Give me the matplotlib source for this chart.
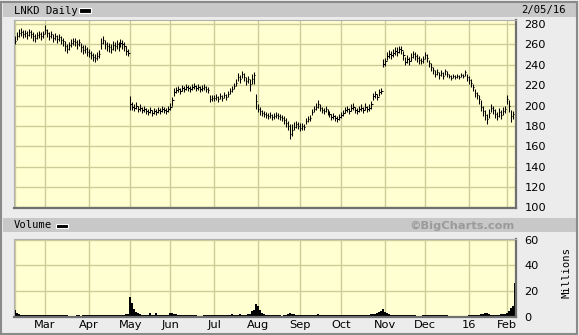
import numpy as np
import matplotlib
matplotlib.use("Agg")
import matplotlib.pyplot as plt
from matplotlib.patches import Rectangle

# trading days per month segment (Feb-15 partial ... Feb-16 partial)
month_labels = ["", "Mar", "Apr", "May", "Jun", "Jul", "Aug", "Sep", "Oct", "Nov", "Dec", "16", "Feb"]
month_days = [15, 22, 21, 20, 22, 22, 21, 21, 22, 20, 22, 19, 5]

# daily closes, highs, lows (USD), one row per month
close = [
    263, 268, 271, 272, 270, 271, 269, 272, 270, 268, 266, 269, 270, 268, 270,
    274, 271, 268, 270, 266, 268, 265, 267, 264, 263, 258, 256, 259, 261, 263, 262, 260, 262, 257, 255, 256, 253,
    252, 250, 248, 247, 249, 251, 261, 264, 260, 258, 257, 256, 259, 258, 260, 258, 261, 260, 258, 254, 252,
    201, 199, 198, 200, 197, 198, 196, 197, 195, 194, 196, 193, 195, 194, 196, 195, 197, 196, 195, 197,
    199, 205, 213, 215, 216, 214, 217, 216, 218, 217, 216, 218, 219, 217, 218, 216, 217, 218, 216, 215, 206, 207,
    207, 208, 206, 209, 207, 210, 208, 211, 214, 216, 219, 222, 228, 226, 231, 228, 224, 226, 221, 226, 230, 204,
    197, 195, 193, 192, 191, 190, 191, 189, 190, 191, 190, 189, 188, 186, 183, 180, 172, 176, 179, 182, 180,
    178, 180, 179, 185, 187, 188, 194, 197, 199, 201, 198, 196, 195, 197, 194, 192, 189, 190, 188, 187, 189,
    191, 193, 196, 197, 195, 198, 199, 196, 195, 197, 198, 196, 199, 197, 198, 201, 209, 211, 208, 213, 214, 241,
    244, 249, 251, 250, 252, 254, 253, 256, 255, 250, 243, 246, 244, 248, 251, 249, 247, 245, 244, 246,
    250, 247, 242, 238, 235, 231, 233, 230, 232, 229, 234, 231, 229, 227, 229, 228, 229, 228, 230, 229, 233, 228,
    225, 222, 218, 212, 210, 206, 199, 195, 191, 187, 193, 198, 196, 192, 190, 194, 191, 195, 197,
    206, 200, 190, 192, 102,
]
high = [
    268, 272, 275, 276, 274, 274, 273, 275, 274, 272, 270, 272, 273, 272, 273,
    279, 275, 272, 273, 270, 271, 269, 270, 268, 266, 263, 260, 262, 265, 266, 266, 264, 265, 261, 259, 259, 257,
    256, 254, 252, 251, 253, 255, 266, 268, 264, 262, 261, 260, 263, 262, 264, 262, 265, 264, 262, 258, 256,
    209, 203, 201, 203, 200, 201, 199, 200, 198, 197, 199, 196, 198, 197, 199, 198, 200, 199, 198, 200,
    202, 208, 217, 218, 219, 217, 220, 219, 221, 220, 219, 221, 222, 220, 221, 219, 220, 221, 219, 218, 210, 210,
    210, 211, 209, 212, 210, 213, 211, 214, 217, 219, 222, 226, 232, 230, 234, 232, 228, 229, 226, 231, 233, 211,
    201, 199, 196, 195, 194, 193, 194, 192, 193, 194, 193, 192, 191, 190, 188, 185, 182, 182, 184, 185, 184,
    183, 183, 182, 188, 190, 191, 197, 200, 202, 205, 201, 199, 198, 200, 197, 195, 192, 193, 191, 190, 192,
    194, 196, 199, 200, 198, 201, 202, 199, 198, 200, 201, 199, 202, 200, 201, 204, 212, 214, 211, 216, 217, 246,
    247, 253, 255, 254, 256, 257, 257, 258, 258, 254, 248, 250, 248, 252, 254, 253, 251, 249, 247, 249,
    253, 251, 245, 242, 238, 235, 236, 233, 235, 233, 236, 234, 231, 230, 231, 230, 231, 230, 232, 231, 235, 231,
    229, 226, 221, 216, 213, 210, 205, 200, 196, 192, 197, 201, 200, 197, 194, 198, 196, 199, 200,
    210, 205, 196, 195, 130,
]
low = [
    260, 264, 267, 268, 266, 267, 265, 268, 266, 263, 262, 265, 266, 264, 266,
    270, 267, 264, 266, 262, 264, 261, 263, 260, 258, 254, 252, 255, 257, 259, 258, 256, 258, 253, 251, 252, 249,
    248, 246, 244, 243, 245, 247, 256, 260, 256, 254, 253, 252, 255, 254, 256, 254, 257, 256, 254, 250, 249,
    196, 196, 195, 197, 194, 195, 193, 194, 192, 191, 193, 190, 192, 191, 193, 192, 194, 193, 192, 194,
    196, 200, 209, 212, 213, 211, 214, 213, 215, 214, 213, 215, 216, 214, 215, 213, 214, 215, 213, 212, 203, 204,
    204, 205, 203, 206, 204, 207, 205, 208, 211, 213, 216, 219, 224, 222, 227, 224, 220, 222, 214, 221, 221, 197,
    194, 191, 190, 189, 188, 187, 188, 186, 187, 188, 187, 186, 185, 182, 179, 176, 167, 170, 176, 178, 177,
    175, 176, 176, 182, 184, 185, 191, 194, 196, 198, 195, 193, 192, 194, 191, 189, 186, 187, 185, 184, 186,
    188, 190, 193, 194, 192, 195, 196, 193, 192, 194, 195, 193, 196, 194, 195, 197, 205, 207, 205, 209, 211, 238,
    239, 245, 247, 246, 248, 250, 249, 252, 251, 245, 240, 242, 240, 244, 247, 245, 243, 241, 241, 242,
    246, 243, 238, 234, 231, 228, 230, 226, 229, 226, 230, 228, 227, 225, 227, 226, 227, 226, 228, 227, 229, 224,
    221, 218, 214, 208, 206, 201, 195, 190, 186, 182, 188, 194, 192, 188, 186, 189, 187, 191, 193,
    201, 194, 184, 187, 101,
]
# daily volume, millions of shares
volume = [
    5.0, 2.5, 1.8, 1.5, 1.4, 1.3, 1.3, 1.2, 1.2, 1.3, 1.2, 1.2, 1.2, 1.1, 1.2,
    1.1, 1.0, 1.1, 1.2, 1.0, 1.1, 1.0, 0.9, 1.0, 1.1, 1.0, 1.2, 0.6, 0.5, 0.6, 0.5, 1.4, 1.0, 0.6, 1.3, 1.0, 1.1,
    1.0, 1.1, 1.0, 1.2, 1.1, 1.0, 1.1, 1.2, 1.0, 1.1, 1.0, 1.1, 1.2, 1.1, 1.0, 1.2, 1.3, 1.2, 1.4, 1.8, 2.2,
    15.5, 11.0, 6.0, 3.5, 2.5, 2.0, 1.5, 1.3, 1.2, 1.5, 2.5, 1.5, 1.2, 2.6, 1.3, 1.2, 1.0, 1.2, 1.3, 1.5,
    2.5, 2.8, 2.2, 1.8, 1.5, 1.3, 1.2, 1.3, 1.2, 1.1, 1.2, 1.1, 1.0, 1.1, 0.8, 0.6, 0.8, 1.1, 1.6, 1.2, 1.3, 1.2,
    1.2, 1.1, 1.0, 1.2, 1.0, 1.1, 1.0, 1.1, 1.2, 1.8, 1.3, 1.5, 1.6, 2.0, 1.4, 1.3, 1.5, 2.0, 2.2, 4.0, 5.0, 9.5,
    8.0, 4.8, 2.8, 2.0, 1.6, 1.3, 1.2, 1.3, 1.1, 1.2, 1.0, 1.2, 0.6, 1.2, 1.6, 2.2, 2.8, 2.2, 1.7, 1.4, 1.2,
    1.1, 1.0, 1.2, 1.0, 1.1, 1.2, 1.3, 1.1, 1.2, 1.7, 1.3, 1.2, 1.1, 1.2, 1.0, 1.3, 1.2, 1.1, 1.5, 1.2, 1.1,
    1.2, 1.1, 1.0, 1.1, 1.2, 1.1, 1.3, 1.2, 1.1, 1.0, 1.2, 1.1, 1.3, 1.2, 1.5, 1.8, 2.0, 2.2, 2.5, 3.5, 4.0, 6.2,
    3.5, 2.5, 2.0, 1.6, 1.5, 1.4, 1.5, 1.6, 1.5, 1.3, 1.4, 1.2, 1.3, 1.2, 1.1, 1.3, 0.7, 0.6, 0.5, 1.0,
    1.2, 1.1, 1.0, 1.2, 1.1, 1.0, 1.1, 1.2, 1.1, 1.0, 1.1, 1.0, 0.5, 0.4, 0.5, 0.4, 0.5, 0.4, 0.5, 0.5, 0.4, 0.5,
    1.2, 1.3, 1.2, 1.4, 1.3, 1.5, 1.7, 2.2, 2.5, 2.6, 2.0, 1.6, 1.4, 1.3, 1.5, 1.6, 1.8, 2.0, 2.4,
    2.8, 4.5, 6.5, 8.5, 26.0,
]
price_ticks = [100, 120, 140, 160, 180, 200, 220, 240, 260, 280]
vol_ticks = [0, 20, 40, 60]

x = np.arange(len(close))
month_starts = np.cumsum([0] + month_days[:-1])

BG = "#ececec"
PANEL = "#ffffd2"
GRID = "#cccc99"
BAR = "#c8c8c8"

fig = plt.figure(figsize=(5.79, 3.35), dpi=100, facecolor=BG)
W, H = 579.0, 335.0

def fx(px):
    return px / W

def fy(py):
    return 1 - py / H

# header bars
fig.patches.append(Rectangle((fx(3), fy(17)), fx(573), 14 / H, transform=fig.transFigure,
                             facecolor=BAR, edgecolor="none"))
fig.patches.append(Rectangle((fx(3), fy(232)), fx(573), 14 / H, transform=fig.transFigure,
                             facecolor=BAR, edgecolor="none"))
# outer frame
fig.patches.append(Rectangle((fx(1), fy(334)), fx(576), 332 / H, transform=fig.transFigure,
                             facecolor="none", edgecolor="#8a8a8a", lw=1.5))

mono = "DejaVu Sans Mono"
fig.text(fx(14), fy(10.5), "LNKD Daily", fontsize=7.6, family=mono, va="center", ha="left")
fig.patches.append(Rectangle((fx(79), fy(12.5)), 12 / W, 4 / H, transform=fig.transFigure,
                             facecolor="black", edgecolor="white", lw=0.8))
fig.text(fx(566), fy(10.5), "2/05/16", fontsize=7.6, family=mono, va="center", ha="right")
fig.text(fx(14), fy(225.5), "Volume", fontsize=7.6, family=mono, va="center", ha="left")
fig.patches.append(Rectangle((fx(56), fy(227.5)), 12 / W, 4 / H, transform=fig.transFigure,
                             facecolor="black", edgecolor="white", lw=0.8))
fig.text(fx(515), fy(225.5), "\u00a9BigCharts.com", fontsize=8.2, weight="bold",
         color="#9a9a9a", va="center", ha="right")

# price panel
ax = fig.add_axes([fx(14), fy(208), 502 / W, 188 / H], facecolor=PANEL)
ax.vlines(x, low, high, color="black", lw=0.75)
ax.hlines(close, x, x + 0.7, color="black", lw=0.75)
ax.set_xlim(-0.5, len(close) - 0.3)
ax.set_ylim(99.3, 284)
ax.set_yticks(price_ticks)
ax.set_xticks(month_starts)
ax.set_xticklabels([])
ax.grid(True, color=GRID, lw=1.0)
ax.set_axisbelow(True)
ax.yaxis.tick_right()
ax.tick_params(axis="y", length=0, labelsize=8.2, pad=6)
ax.tick_params(axis="x", length=0)

# volume panel
av = fig.add_axes([fx(14), fy(317), 502 / W, 78 / H], facecolor=PANEL)
av.fill_between(x, volume, 0, step="mid", color="black", lw=0)
av.set_xlim(-0.5, len(close) - 0.3)
av.set_ylim(-0.3, 60.5)
av.set_yticks(vol_ticks)
av.set_xticks(month_starts)
av.set_xticklabels(month_labels)
av.grid(True, color=GRID, lw=1.0)
av.set_axisbelow(True)
av.yaxis.tick_right()
av.tick_params(axis="y", length=0, labelsize=8.2, pad=6)
av.tick_params(axis="x", length=0, labelsize=8.2, pad=2)
fig.text(fx(566), fy(273), "Millions", fontsize=7.6, family=mono, rotation=90,
         va="center", ha="center")

for a in (ax, av):
    for s in ("left", "top"):
        a.spines[s].set_color("#b0b0b0")
        a.spines[s].set_linewidth(0.8)
    for s in ("right", "bottom"):
        a.spines[s].set_color("#707070")
        a.spines[s].set_linewidth(1.6)

fig.savefig("out.png", dpi=100, facecolor=BG)
